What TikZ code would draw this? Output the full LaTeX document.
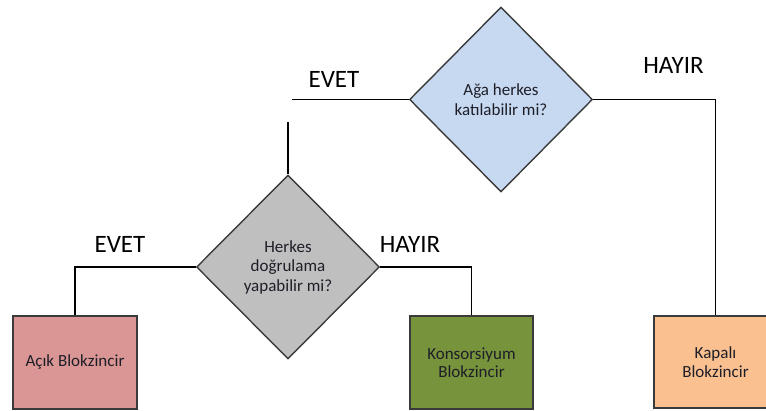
\documentclass[tikz,border=0pt]{standalone}
\usepackage{fontspec}
\setmainfont{Carlito}
\usetikzlibrary{shapes.geometric}

\definecolor{qblue}{HTML}{C6D9F1}
\definecolor{qgray}{HTML}{BFBFBF}
\definecolor{openred}{HTML}{D99694}
\definecolor{consgreen}{HTML}{77933C}
\definecolor{closedorange}{HTML}{FAC090}
\definecolor{edgegray}{HTML}{3A3A3A}
\definecolor{txt}{HTML}{1E1E28}

\tikzset{
  question/.style={diamond, draw=edgegray, line width=1.4pt, inner sep=0pt,
    align=center, text=txt, font=\fontsize{17}{19.5}\selectfont},
  chainbox/.style={rectangle, draw=edgegray, line width=1.6pt, inner sep=0pt,
    align=center, text=txt, font=\fontsize{17}{18.5}\selectfont},
  answer/.style={anchor=base, text=black, font=\fontsize{25}{27}\selectfont},
  link/.style={draw=black, line width=1.3pt}
}

\begin{document}
\begin{tikzpicture}[x=1pt, y=-1pt]
  \useasboundingbox (0,0) rectangle (766,411);
  \clip (0,0) rectangle (766,411);

  % decision diamonds
  \node[question, fill=qblue, minimum width=183pt, minimum height=185pt]
    (join) at (501,99.5) {Ağa herkes\\katılabilir mi?};
  \node[question, fill=qgray, minimum width=183pt, minimum height=184pt]
    (verify) at (288,267) {Herkes\\doğrulama\\yapabilir mi?};

  % outcome boxes
  \node[chainbox, fill=openred, minimum width=124pt, minimum height=93pt]
    (open) at (75,362.5) {Açık Blokzincir};
  \node[chainbox, fill=consgreen, minimum width=123pt, minimum height=93pt]
    (consortium) at (471.5,362.5) {Konsorsiyum\\Blokzincir};
  \node[chainbox, fill=closedorange, minimum width=123pt, minimum height=92pt]
    (closed) at (715.5,362) {Kapalı\\Blokzincir};

  % loose ends of the broken "yes" branch
  \coordinate (yesend) at (292,99.5);
  \coordinate (yesstart) at (288,122);

  % connectors
  \draw[link] (join.west) -- (yesend);
  \draw[link] (yesstart) -- (verify.north);
  \draw[link] (join.east) -| (closed.north);
  \draw[link] (verify.west) -| (open.north);
  \draw[link] (verify.east) -| (consortium.north);

  % branch labels
  \node[answer] (yestop) at (334,88) {EVET};
  \node[answer] (notop) at (673.5,73.5) {HAYIR};
  \node[answer] (yeslow) at (120,253) {EVET};
  \node[answer] (nolow) at (410,253) {HAYIR};
\end{tikzpicture}
\end{document}
